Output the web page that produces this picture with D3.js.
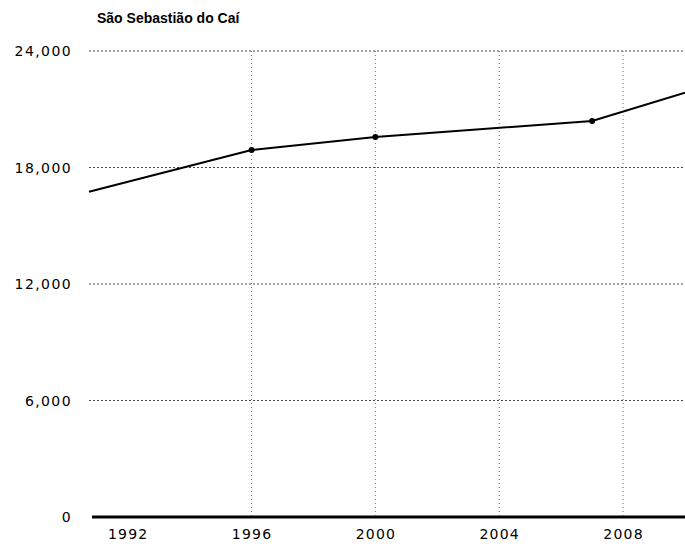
<!DOCTYPE html>
<html>
<head>
<meta charset="utf-8">
<script src="https://cdn.jsdelivr.net/npm/d3@7"></script>
<style>
  body { margin: 0; background: #fff; }
  text { fill: #000; }
</style>
</head>
<body>
<svg id="chart" width="685" height="546" viewBox="0 0 685 546"></svg>
<script>
// values
const title = "São Sebastião do Caí"
const years = [1990.75, 1996, 2000, 2007, 2010]
const population = [16750, 18900, 19570, 20400, 21850]
const yTicks = [0, 6000, 12000, 18000, 24000]
const xTicks = [1992, 1996, 2000, 2004, 2008]

const svg = d3.select("#chart")
const width = 685, height = 546
const margin = {left: 89, right: 0, top: 51, bottom: 29}

let x = d3.scaleLinear()
    .domain([1990.75, 2010])
    .range([margin.left, width - margin.right])

let y = d3.scaleLinear()
    .domain([0, 24000])
    .range([height - margin.bottom, margin.top])

// horizontal grid
svg.append("g")
    .selectAll("line")
    .data(yTicks.filter(d => d > 0))
    .enter()
    .append("line")
    .attr("x1", x.range()[0])
    .attr("x2", x.range()[1])
    .attr("y1", d => y(d))
    .attr("y2", d => y(d))
    .attr("stroke", "#444")
    .attr("stroke-width", 1)
    .attr("stroke-dasharray", "2,2")

// vertical grid
svg.append("g")
    .selectAll("line")
    .data(xTicks.filter(d => d > 1992))
    .enter()
    .append("line")
    .attr("x1", d => x(d))
    .attr("x2", d => x(d))
    .attr("y1", y(24000))
    .attr("y2", y(0))
    .attr("stroke", "#777")
    .attr("stroke-width", 1)
    .attr("stroke-dasharray", "1,3")

// y labels
svg.append("g")
    .selectAll("text")
    .data(yTicks)
    .enter()
    .append("text")
    .attr("x", 72)
    .attr("y", d => y(d) + 5)
    .attr("text-anchor", "end")
    .style("font-family", "DejaVu Sans, sans-serif")
    .style("font-size", "14px")
    .attr("letter-spacing", 1.4)
    .text(d => d3.format(",")(d))

// x axis
let xAxis = d3.axisBottom(x)
    .tickValues(xTicks)
    .tickSize(0)
    .tickPadding(12)
    .tickFormat(d3.format("d"))

let gx = svg.append("g")
    .attr("transform", `translate(0, ${y(0)})`)
    .call(xAxis)
gx.select(".domain").remove()
gx.selectAll("text")
    .style("font-family", "DejaVu Sans, sans-serif")
    .style("font-size", "14px")
    .attr("letter-spacing", 1.2)
    .attr("fill", "#000")

svg.append("line")
    .attr("x1", x.range()[0] + 3)
    .attr("x2", x.range()[1])
    .attr("y1", y(0))
    .attr("y2", y(0))
    .attr("stroke", "#000")
    .attr("stroke-width", 3)

// data line
const pts = years.map((d, i) => [d, population[i]])
svg.append("path")
    .datum(pts)
    .attr("fill", "none")
    .attr("stroke", "#000")
    .attr("stroke-width", 2)
    .attr("d", d3.line().x(d => x(d[0])).y(d => y(d[1])))

svg.append("g")
    .selectAll("circle")
    .data(pts.slice(1, -1))
    .enter()
    .append("circle")
    .attr("cx", d => x(d[0]))
    .attr("cy", d => y(d[1]))
    .attr("r", 3)
    .attr("fill", "#000")

// title
svg.append("text")
    .attr("x", 97)
    .attr("y", 23)
    .style("font-family", "Liberation Sans, sans-serif")
    .style("font-weight", "bold")
    .style("font-size", "14px")
    .text(title)
</script>
</body>
</html>
